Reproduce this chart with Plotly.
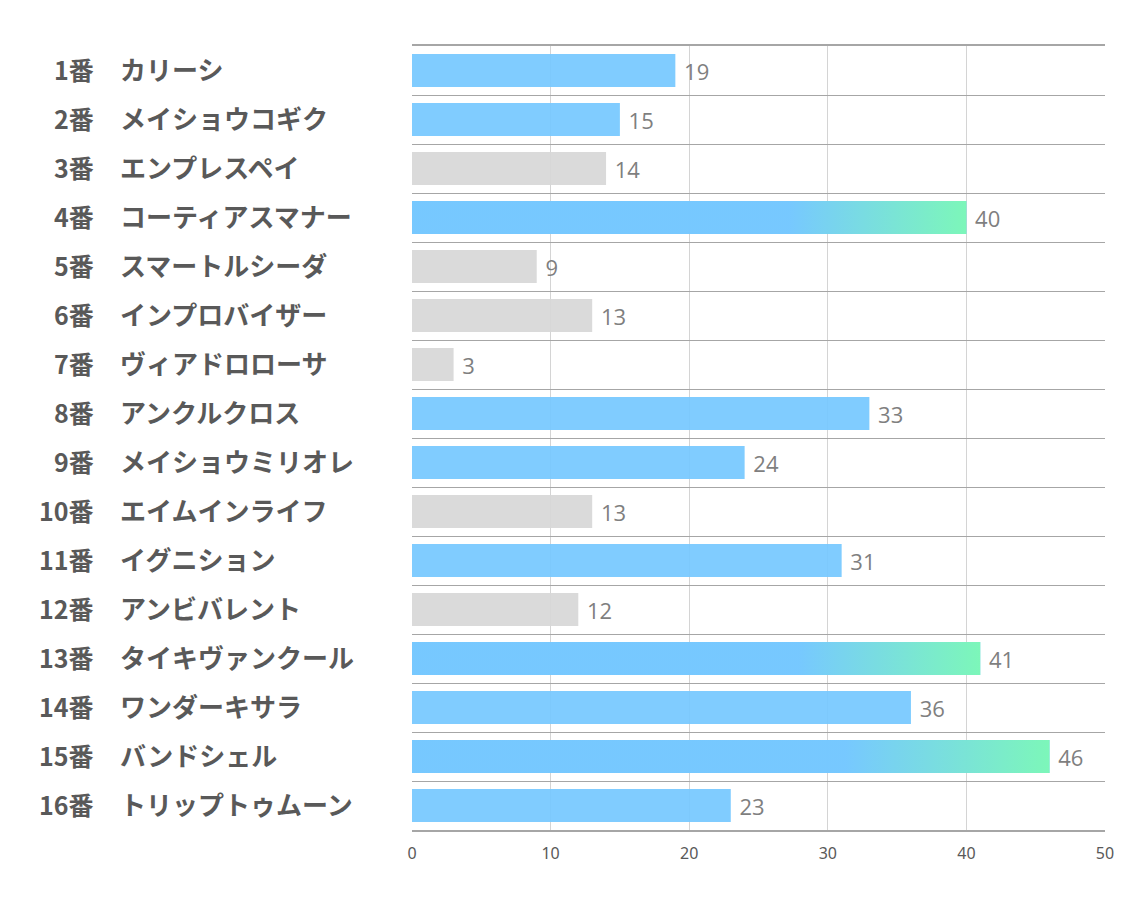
import plotly.graph_objects as go

numbers = ["1番", "2番", "3番", "4番", "5番", "6番", "7番", "8番",
           "9番", "10番", "11番", "12番", "13番", "14番", "15番", "16番"]
names = ["カリーシ", "メイショウコギク", "エンプレスペイ", "コーティアスマナー",
         "スマートルシーダ", "インプロバイザー", "ヴィアドロローサ", "アンクルクロス",
         "メイショウミリオレ", "エイムインライフ", "イグニション", "アンビバレント",
         "タイキヴァンクール", "ワンダーキサラ", "バンドシェル", "トリップトゥムーン"]
values = [19, 15, 14, 40, 9, 13, 3, 33, 24, 13, 31, 12, 41, 36, 46, 23]
# category of bar colouring: "blue", "gray", "grad"
kinds = ["blue", "blue", "gray", "grad", "gray", "gray", "gray", "blue",
         "blue", "gray", "blue", "gray", "grad", "blue", "grad", "blue"]
x_ticks = [0, 10, 20, 30, 40, 50]

BLUE = "rgba(118,200,255,0.93)"
GRAY = "rgba(215,215,215,0.93)"
GREEN = "rgba(124,250,180,0.93)"
BAR_W = 0.67

# page body has an 8px offset
OFF = 8
W, H = 1134 - OFF, 907 - OFF
L = 412 - OFF
R = 1134 - 1105
T = 46 - OFF
B = 907 - 830
plot_w = W - L - R

pos = list(range(len(values)))
colors = [GRAY if k == "gray" else BLUE for k in kinds]

fig = go.Figure()
fig.add_trace(go.Bar(
    y=pos, x=values, orientation="h", width=BAR_W,
    marker=dict(color=colors, line=dict(width=0)),
    text=[" " + str(v) for v in values], textposition="outside",
    textfont=dict(family="Open Sans, Noto Sans", size=22, color="#7f7f7f"),
    cliponaxis=False, hoverinfo="skip", showlegend=False,
))

# gradient overlays for highlighted bars
for i, (v, k) in enumerate(zip(values, kinds)):
    if k != "grad":
        continue
    h = BAR_W / 2
    fig.add_trace(go.Scatter(
        x=[0, v, v, 0, 0], y=[i - h, i - h, i + h, i + h, i - h],
        mode="lines", line=dict(width=0), fill="toself",
        fillgradient=dict(type="horizontal",
                          colorscale=[[0, BLUE], [0.68, BLUE], [1, GREEN]]),
        hoverinfo="skip", showlegend=False,
    ))

# row labels (pixel positions on page -> x domain fraction)
num_right = (96 - 412) / plot_w
name_left = (118 - 412) / plot_w
for i, (n, nm) in enumerate(zip(numbers, names)):
    fig.add_annotation(x=num_right, xref="x domain", y=i, yref="y",
                       text="<b>" + n + "</b>", yshift=2,
                       showarrow=False, xanchor="right", yanchor="middle",
                       font=dict(family="Noto Sans CJK JP", size=25, color="#595959"))
    fig.add_annotation(x=name_left, xref="x domain", y=i, yref="y",
                       text="<b>" + nm + "</b>", yshift=2,
                       showarrow=False, xanchor="left", yanchor="middle",
                       font=dict(family="Noto Sans CJK JP", size=26, color="#595959"))

fig.update_layout(
    width=W, height=H,
    margin=dict(l=L, r=R, t=T, b=B),
    plot_bgcolor="white", paper_bgcolor="white",
    barmode="overlay",
    xaxis=dict(range=[0, 50], tickvals=x_ticks, showgrid=True,
               gridcolor="#d4d4d4", gridwidth=1, zeroline=False,
               showline=True, mirror=True, linecolor="#a6a6a6", linewidth=1.5,
               ticks="", ticklabelstandoff=8,
               tickfont=dict(family="Noto Sans", size=16, color="#595959")),
    yaxis=dict(range=[15.5, -0.5], tickvals=[p - 0.5 for p in pos] + [15.5],
               showticklabels=False, showgrid=True, gridcolor="#a6a6a6",
               gridwidth=1, zeroline=False, ticks=""),
)

fig.write_html("out.html")
